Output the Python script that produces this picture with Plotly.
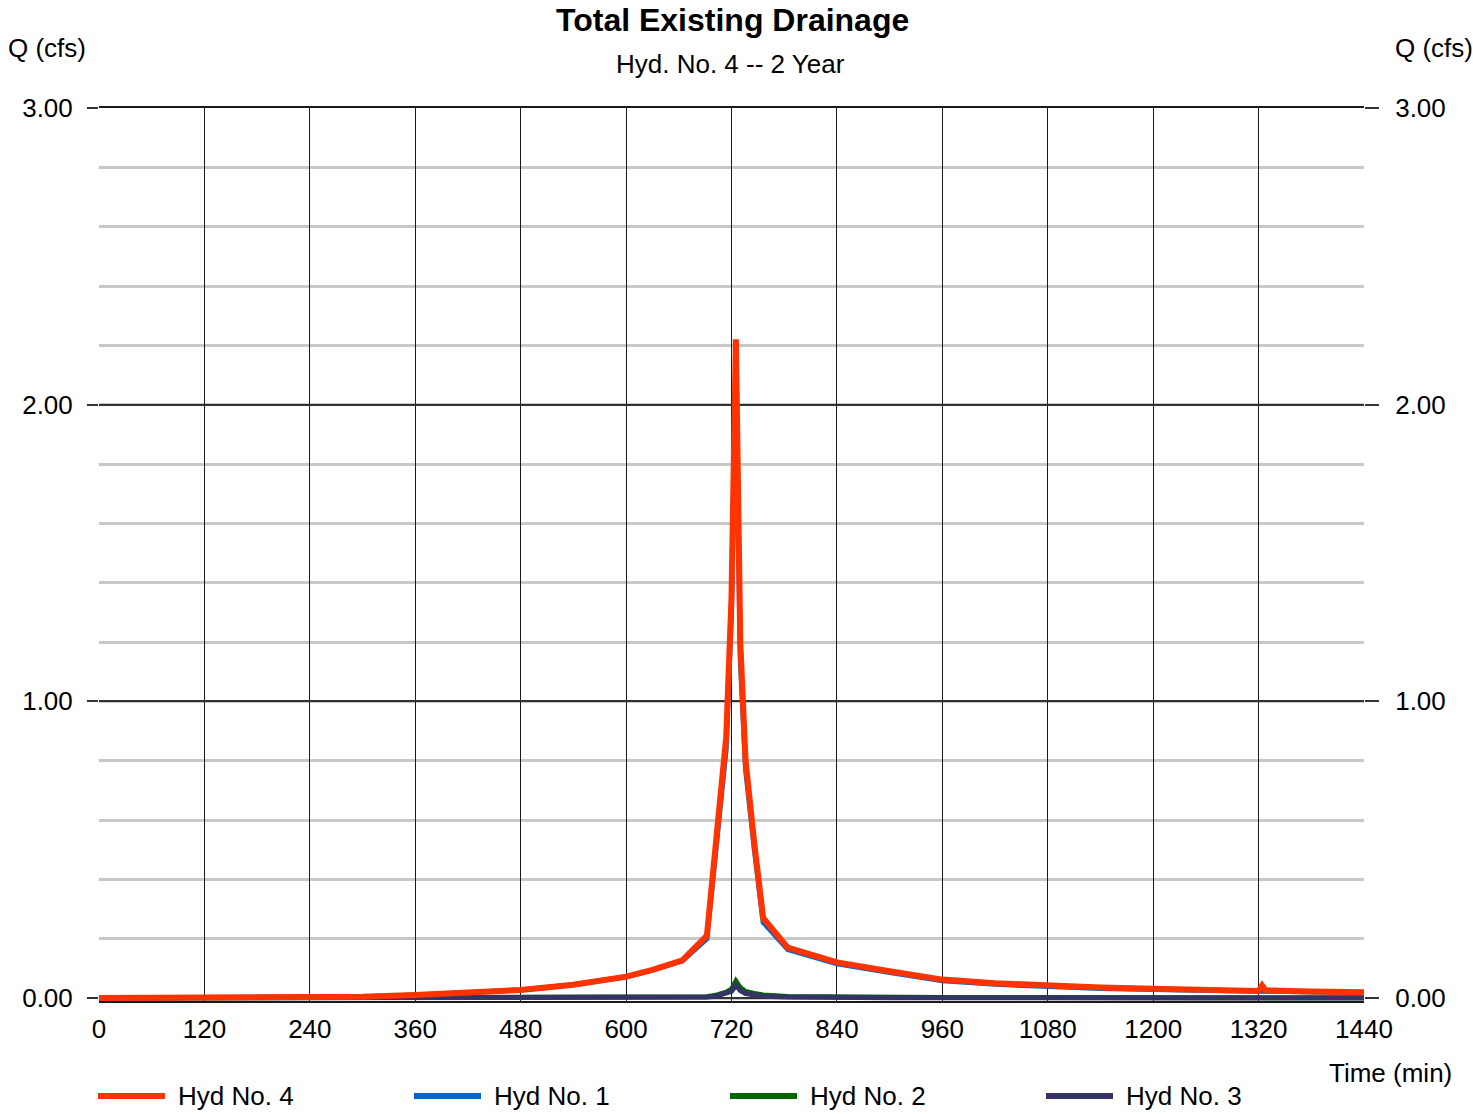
import plotly.graph_objects as go

# Hydrograph time base (min)
time_min = [0, 60, 120, 180, 240, 300, 360, 420, 480, 540, 600, 630, 664, 692,
            702, 714, 720, 725, 730, 736, 746, 756, 784, 840, 900, 960, 1020,
            1080, 1140, 1200, 1260, 1320, 1324, 1328, 1380, 1440]

# Hyd No. 4 -- total of the three contributing hydrographs (cfs)
hyd4 = [0.0, 0.0, 0.0, 0.0, 0.001, 0.004, 0.010, 0.017, 0.027, 0.045, 0.072, 0.095,
        0.127, 0.21, 0.50, 0.88, 1.35, 2.22, 1.20, 0.80, 0.52, 0.27, 0.17, 0.12,
        0.09, 0.062, 0.050, 0.040, 0.035, 0.031, 0.027, 0.024, 0.042, 0.026,
        0.022, 0.019]

# Hyd No. 1 (cfs)
hyd1 = [0.0, 0.0, 0.0, 0.0, 0.001, 0.004, 0.010, 0.017, 0.027, 0.045, 0.071, 0.094,
        0.125, 0.20, 0.48, 0.84, 1.30, 2.12, 1.14, 0.77, 0.50, 0.255, 0.163, 0.115,
        0.086, 0.058, 0.046, 0.037, 0.032, 0.029, 0.025, 0.022, 0.022, 0.022,
        0.020, 0.018]

# Hyd No. 2 (cfs)
hyd2 = [0.0, 0.0, 0.0, 0.0, 0.0, 0.0, 0.0, 0.0, 0.0, 0.0, 0.0, 0.001,
        0.001, 0.004, 0.009, 0.020, 0.030, 0.057, 0.035, 0.022, 0.015, 0.010, 0.005, 0.003,
        0.003, 0.002, 0.002, 0.002, 0.001, 0.001, 0.001, 0.001, 0.001, 0.001,
        0.001, 0.001]

# Hyd No. 3 (cfs)
hyd3 = [0.0, 0.0, 0.0, 0.0, 0.0, 0.0, 0.0, 0.0, 0.0, 0.0, 0.0, 0.0,
        0.001, 0.003, 0.006, 0.014, 0.022, 0.043, 0.025, 0.015, 0.010, 0.006, 0.003, 0.001,
        0.001, 0.001, 0.0, 0.0, 0.0, 0.0, 0.0, 0.0, 0.0, 0.0,
        0.0, 0.0]

series_names = ["Hyd No. 4", "Hyd No. 1", "Hyd No. 2", "Hyd No. 3"]
series_values = [hyd4, hyd1, hyd2, hyd3]
series_colors = ["#FF3300", "#0066CC", "#006600", "#333366"]
series_widths = [6, 5, 5, 5]

x_ticks = list(range(0, 1441, 120))
y_ticks = [0, 1, 2, 3]
y_tick_text = ["0.00", "1.00", "2.00", "3.00"]

FONT = "Liberation Sans, Arial, sans-serif"
W, H = 1473, 1114
ML, MR, MT, MB = 99, 109, 108, 113
PW, PH = W - ML - MR, H - MT - MB
# small headroom below zero so the baseline traces are not clipped in half
Y_MIN = -3.0 * 3.0 / 890.0


def px_x(p):
    return (p - ML) / PW


def px_y(p):
    return (H - MB - p) / PH


fig = go.Figure()

# draw order: Hyd 1, Hyd 2, Hyd 3, then the total on top
for idx in [1, 2, 3, 0]:
    fig.add_trace(go.Scatter(
        x=time_min, y=series_values[idx], mode="lines", name=series_names[idx],
        line=dict(color=series_colors[idx], width=series_widths[idx]),
        showlegend=False, hoverinfo="skip"))

# invisible trace so the right-hand axis renders
fig.add_trace(go.Scatter(x=[time_min[0]], y=[0], yaxis="y2", mode="markers",
                         marker=dict(opacity=0), showlegend=False, hoverinfo="skip"))

axis_font = dict(family=FONT, size=26, color="#000000")
text_font = dict(family=FONT, size=26, color="#000000")

fig.update_layout(
    width=W, height=H,
    margin=dict(l=ML, r=MR, t=MT, b=MB),
    paper_bgcolor="white", plot_bgcolor="white",
    showlegend=False,
    xaxis=dict(range=[0, 1440], tickvals=x_ticks, ticktext=[str(v) for v in x_ticks],
               showgrid=True, gridcolor="#1a1a1a", gridwidth=1.3,
               showline=True, linecolor="#1a1a1a", linewidth=1.5, mirror=True,
               ticks="", tickfont=axis_font, ticklabelstandoff=4, zeroline=False),
    yaxis=dict(range=[Y_MIN, 3], tickvals=y_ticks, ticktext=y_tick_text,
               showgrid=True, gridcolor="#333333", gridwidth=1.8,
               minor=dict(dtick=0.2, tick0=0, showgrid=True, gridcolor="#c8c8c8", gridwidth=2.5),
               ticks="outside", ticklen=11, tickcolor="#333333", tickwidth=1.8,
               tickfont=axis_font, ticklabelstandoff=9, zeroline=False,
               showline=False),
    yaxis2=dict(range=[Y_MIN, 3], tickvals=y_ticks, ticktext=y_tick_text,
                overlaying="y", side="right", showgrid=False,
                ticks="outside", ticklen=14, tickcolor="#333333", tickwidth=1.8,
                tickfont=axis_font, ticklabelstandoff=11, zeroline=False,
                showline=False),
)

annotations = [
    dict(text="<b>Total Existing Drainage</b>", x=px_x(732), y=px_y(20),
         font=dict(family=FONT, size=32, color="#000000"), xanchor="center"),
    dict(text="Hyd. No. 4 -- 2 Year", x=px_x(730), y=px_y(64),
         font=dict(family=FONT, size=26, color="#000000"), xanchor="center"),
    dict(text="Q (cfs)", x=px_x(6), y=px_y(48), font=text_font, xanchor="left"),
    dict(text="Q (cfs)", x=px_x(1393), y=px_y(48), font=text_font, xanchor="left"),
    dict(text="Time (min)", x=px_x(1454), y=px_y(1073), font=text_font, xanchor="right"),
]

# legend row beneath the plot
legend_x0 = [98, 414, 730, 1046]
shapes = []
for name, color, x0 in zip(series_names, series_colors, legend_x0):
    shapes.append(dict(type="line", xref="paper", yref="paper",
                       x0=px_x(x0), x1=px_x(x0 + 67), y0=px_y(1096), y1=px_y(1096),
                       line=dict(color=color, width=6)))
    annotations.append(dict(text=name, x=px_x(x0 + 78), y=px_y(1096),
                            font=text_font, xanchor="left"))

for a in annotations:
    a.update(xref="paper", yref="paper", yanchor="middle", showarrow=False)

fig.update_layout(annotations=annotations, shapes=shapes)

fig.write_html("out.html")
